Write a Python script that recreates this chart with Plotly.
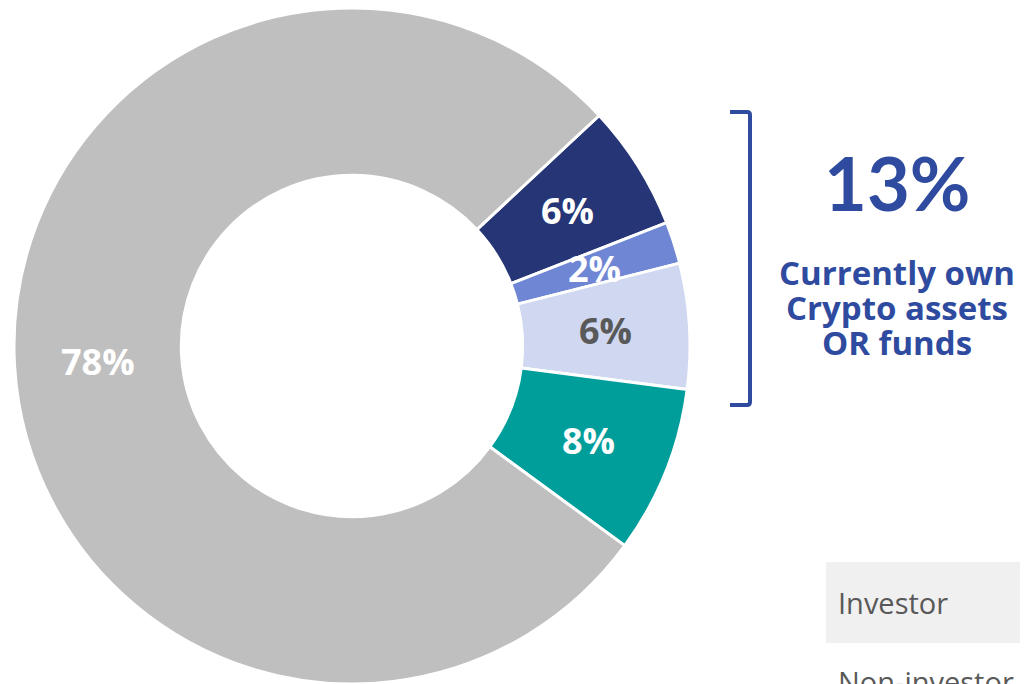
import math
import plotly.graph_objects as go

# ---- data ----
segments = ["Investor - Crypto assets", "Investor - Both", "Investor - Crypto funds", "Investor - Other", "Non-investor"]
shares = [6, 2, 6, 8, 78]
slice_colors = ["#253575", "#6F86D4", "#CFD8F0", "#009E9B", "#BFBFBF"]
label_colors = ["#FFFFFF", "#FFFFFF", "#595959", "#FFFFFF", "#FFFFFF"]
total_label = "13%"
total_lines = ["Currently own", "Crypto assets", "OR funds"]
legend_items = ["Investor", "Non-investor"]

# ---- geometry ----
W, H = 1028, 684
OFF = 8            # page offset of the figure inside the browser body
MT, MB = 0, 8
PH = H - MT - MB
ROT = 47
HOLE = 0.505

def px2x(px):
    return (px - OFF) / W

def px2y(py):
    return (H - MB - (py - OFF)) / PH

BLUE = "#2F4B9F"
FONT = "Open Sans"

dom_x = [0, (2 * (352 - OFF)) / W]
R = min(dom_x[1] * W, PH) / 2
cx = OFF + (dom_x[0] + dom_x[1]) / 2 * W
cy = OFF + MT + PH / 2

fig = go.Figure()
fig.add_trace(go.Pie(
    labels=segments,
    values=shares,
    hole=HOLE,
    sort=False,
    direction="clockwise",
    rotation=ROT,
    marker=dict(colors=slice_colors, line=dict(color="#FFFFFF", width=3)),
    textinfo="none",
    domain=dict(x=dom_x, y=[0, 1]),
    showlegend=False,
    hoverinfo="label+value",
))

annotations = []
# slice labels at the middle of the ring, derived from the shares
total = sum(shares)
r_mid = R * (1 + HOLE) / 2
cum = 0
for v, col in zip(shares, label_colors):
    ang = math.radians(ROT + (cum + v / 2) / total * 360)
    cum += v
    lx = cx + r_mid * math.sin(ang)
    ly = cy - r_mid * math.cos(ang)
    annotations.append(dict(text=f"<b>{v}%</b>", x=px2x(lx), y=px2y(ly), xref="paper", yref="paper",
                            showarrow=False, xanchor="center", yanchor="middle",
                            font=dict(family=FONT, size=36, color=col)))

annotations.append(dict(text=f"<b>{total_label}</b>", x=px2x(897), y=px2y(182), xref="paper", yref="paper",
                        showarrow=False, xanchor="center", yanchor="middle",
                        font=dict(family="Lato", size=74, color=BLUE)))
for i, line in enumerate(total_lines):
    annotations.append(dict(text=f"<b>{line}</b>", x=px2x(897), y=px2y(272 + 35 * i),
                            xref="paper", yref="paper", showarrow=False,
                            xanchor="center", yanchor="middle",
                            font=dict(family=FONT, size=33, color=BLUE)))
for i, item in enumerate(legend_items):
    annotations.append(dict(text=item, x=px2x(836), y=px2y(602 + 79 * i),
                            xref="paper", yref="paper", showarrow=False,
                            xanchor="left", yanchor="middle",
                            font=dict(family=FONT, size=29, color="#595959")))

# bracket path
bx, by0, by1, bl = 750, 112, 405, 730
path = (f"M {px2x(bl)},{px2y(by0)} L {px2x(bx-3)},{px2y(by0)} "
        f"Q {px2x(bx)},{px2y(by0)} {px2x(bx)},{px2y(by0+3)} "
        f"L {px2x(bx)},{px2y(by1-3)} "
        f"Q {px2x(bx)},{px2y(by1)} {px2x(bx-3)},{px2y(by1)} "
        f"L {px2x(bl)},{px2y(by1)}")
shapes = [
    dict(type="path", path=path, xref="paper", yref="paper",
         line=dict(color=BLUE, width=4)),
    dict(type="rect", xref="paper", yref="paper", x0=px2x(826), x1=px2x(1040),
         y0=px2y(643), y1=px2y(562), fillcolor="#F0F0F0", line=dict(width=0), layer="below"),
]

fig.update_layout(
    width=W, height=H,
    margin=dict(l=0, r=0, t=MT, b=MB),
    paper_bgcolor="#FFFFFF", plot_bgcolor="#FFFFFF",
    annotations=annotations,
    shapes=shapes,
)

fig.write_html("out.html")
